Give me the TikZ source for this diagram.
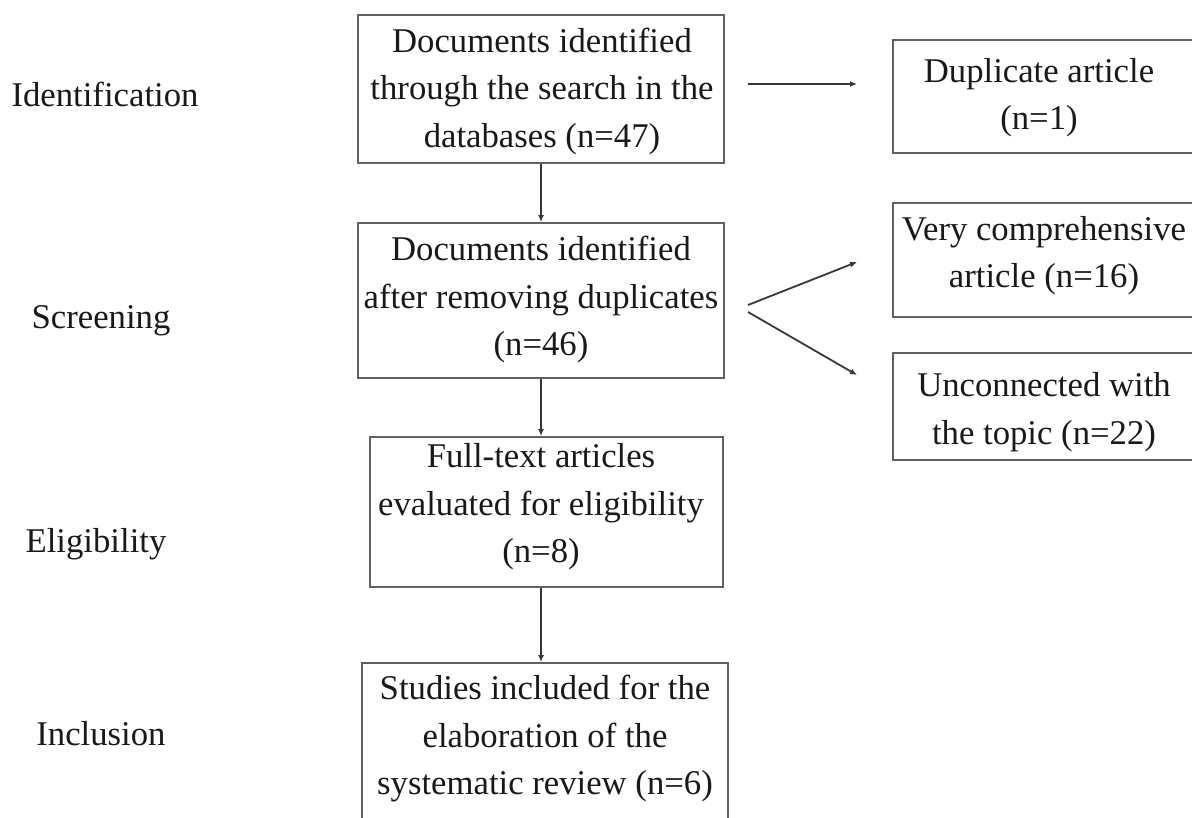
\documentclass[tikz,border=0pt]{standalone}
\usepackage{fontspec}
\setmainfont{Liberation Serif}
\usetikzlibrary{arrows.meta}
\begin{document}
\begin{tikzpicture}[x=1pt,y=-1pt,
  frame/.style={draw=black!62, line width=1.8pt, inner sep=0pt, rectangle},
  txt/.style={align=center, inner sep=0pt, text=black!90, font=\fontsize{34.7}{47.5}\selectfont},
  arr/.style={draw=black!78, line width=1.8pt, -{Latex[length=7pt,width=6pt]}}]
\useasboundingbox (0,0) rectangle (1192,818);
\clip (0,0) rectangle (1192,818);
% stage labels
\node[txt] (lid) at (105,94) {Identification};
\node[txt] (lsc) at (101,321) {Screening};
\node[txt] (lel) at (96,544) {Eligibility};
\node[txt] (lin) at (101,734) {Inclusion};
% main boxes
\node[frame, minimum width=366pt, minimum height=148pt] (b1) at (541,89) {};
\node[txt] (t1) at (542,91) {Documents identified\\through the search in the\\databases (n=47)};
\node[frame, minimum width=366pt, minimum height=155pt] (b2) at (541,300.5) {};
\node[txt] (t2) at (541,299.5) {Documents identified\\after removing duplicates\\(n=46)};
\node[frame, minimum width=353pt, minimum height=150pt] (b3) at (546.5,512) {};
\node[txt] (t3) at (541,507) {Full-text articles\\evaluated for eligibility\\(n=8)};
\node[frame, minimum width=366pt, minimum height=207pt] (b4) at (545,766.5) {};
\node[txt] (t4) at (545,739) {Studies included for the\\elaboration of the\\systematic review (n=6)};
% exclusion boxes
\node[frame, minimum width=317pt, minimum height=113pt] (d1) at (1051.5,96.5) {};
\node[txt] (e1) at (1039,97.5) {Duplicate article\\(n=1)};
\node[frame, minimum width=317pt, minimum height=114pt] (d2) at (1051.5,260) {};
\node[txt] (e2) at (1044,255.5) {Very comprehensive\\article (n=16)};
\node[frame, minimum width=317pt, minimum height=107pt] (d3) at (1051.5,406.5) {};
\node[txt] (e3) at (1044,412) {Unconnected with\\the topic (n=22)};
% connectors
\coordinate (h1) at (748,84);
\coordinate (h2) at (857,84);
\coordinate (f1) at (748,305);
\coordinate (f1e) at (857,262);
\coordinate (f2) at (748,312);
\coordinate (f2e) at (857,375);
\draw[arr] (h1) -- (h2);
\draw[arr] (f1) -- (f1e);
\draw[arr] (f2) -- (f2e);
\draw[arr] (b1.south) -- (b2.north);
\draw[arr] (b2.south) -- (b2.south |- b3.north);
\draw[arr] (b2.south |- b3.south) -- (b2.south |- b4.north);
\end{tikzpicture}
\end{document}
